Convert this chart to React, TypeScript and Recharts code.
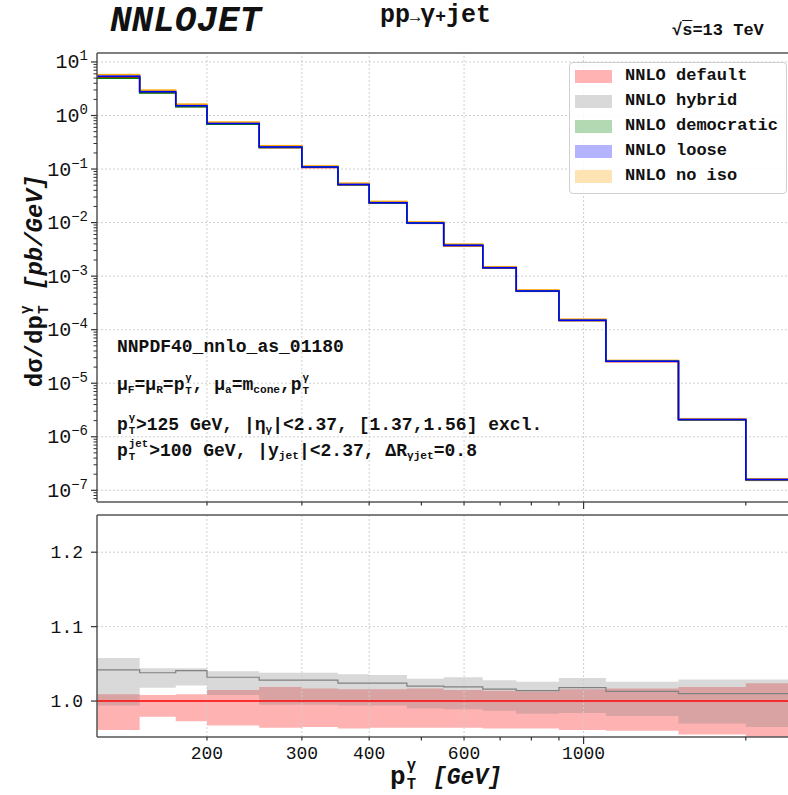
import React from "react";
import { ComposedChart, Area, Line, XAxis, YAxis, ReferenceLine } from "recharts";

const FONT = "'Liberation Mono', 'DejaVu Sans Mono', monospace";
const FRAME = "#555";
const GRID = "#cfcfcf";

// pT bin edges [GeV]
const binEdges = [125, 150, 175, 200, 250, 300, 350, 400, 470, 550, 650, 750, 900, 1100, 1500, 2000, 2500];

// d sigma / d pT [pb/GeV], one value per bin
const xsDefault = [5.2, 2.7, 1.48, 0.69, 0.252, 0.107, 0.0508, 0.0232, 0.0097, 0.0037, 0.00142, 0.00052, 0.000148, 2.55e-5, 2.08e-6, 1.57e-7];
const xsDemocratic = [4.95, 2.62, 1.46, 0.688, 0.253, 0.1075, 0.051, 0.0233, 0.00975, 0.00372, 0.00143, 0.000522, 0.000149, 2.56e-5, 2.09e-6, 1.58e-7];
const xsLoose = [5.42, 2.77, 1.52, 0.708, 0.258, 0.109, 0.0517, 0.0236, 0.00985, 0.00376, 0.00144, 0.000527, 0.00015, 2.58e-5, 2.1e-6, 1.59e-7];
const xsNoIso = [5.75, 2.95, 1.63, 0.75, 0.271, 0.1145, 0.0543, 0.0248, 0.0103, 0.00392, 0.0015, 0.000548, 0.000156, 2.67e-5, 2.17e-6, 1.64e-7];

// ratio to NNLO default (lower panel)
const hybridRatio = [1.042, 1.038, 1.041, 1.032, 1.028, 1.028, 1.024, 1.024, 1.02, 1.019, 1.016, 1.014, 1.018, 1.013, 1.01, 1.01];
const hybridLo = [0.994, 1.018, 1.021, 1.008, 0.995, 0.995, 0.994, 0.994, 0.99, 0.989, 0.987, 0.983, 0.984, 0.98, 0.97, 0.965];
const hybridHi = [1.058, 1.044, 1.044, 1.04, 1.038, 1.038, 1.036, 1.035, 1.03, 1.032, 1.028, 1.026, 1.031, 1.026, 1.029, 1.029];
const defaultLo = [0.961, 0.979, 0.973, 0.967, 0.964, 0.965, 0.963, 0.964, 0.964, 0.964, 0.963, 0.963, 0.961, 0.96, 0.955, 0.945];
const defaultHi = [1.009, 1.008, 1.009, 1.015, 1.019, 1.017, 1.016, 1.016, 1.017, 1.015, 1.014, 1.013, 1.016, 1.017, 1.019, 1.024];

// scale bands of the other prescriptions, relative to their own central value
const democraticLo = [0.97, 0.98, 0.975, 0.97, 0.968, 0.968, 0.967, 0.967, 0.966, 0.966, 0.965, 0.965, 0.964, 0.963, 0.96, 0.955];
const democraticHi = [1.012, 1.01, 1.01, 1.014, 1.016, 1.016, 1.015, 1.015, 1.015, 1.015, 1.014, 1.014, 1.015, 1.016, 1.018, 1.02];
const looseLo = [0.972, 0.98, 0.976, 0.97, 0.968, 0.968, 0.967, 0.967, 0.966, 0.966, 0.965, 0.965, 0.964, 0.963, 0.96, 0.955];
const looseHi = [1.012, 1.01, 1.01, 1.014, 1.016, 1.016, 1.015, 1.015, 1.015, 1.015, 1.014, 1.014, 1.015, 1.016, 1.018, 1.02];
const noIsoLo = [0.975, 0.978, 0.976, 0.975, 0.974, 0.974, 0.973, 0.973, 0.972, 0.972, 0.972, 0.971, 0.971, 0.97, 0.968, 0.965];
const noIsoHi = [1.06, 1.055, 1.055, 1.05, 1.05, 1.048, 1.048, 1.047, 1.046, 1.046, 1.045, 1.045, 1.044, 1.044, 1.043, 1.042];

// axis ticks
const xTicks = [200, 300, 400, 500, 600, 700, 800, 900, 1000, 2000];
const xLabelled = [200, 300, 400, 600, 1000];
const xLong = [1000];
const yDecades = [1e-7, 1e-6, 1e-5, 1e-4, 1e-3, 1e-2, 1e-1, 1, 10];
const yMinorSteps = [2, 3, 4, 5, 6, 7, 8, 9];
const ratioTicks = [1.0, 1.1, 1.2];

const X_DOMAIN = [125, 2500];
const Y_TOP = [6.05e-8, 14.7];
const Y_RATIO = [0.9517, 1.25];

const yTicksTop: number[] = [];
[1e-8, ...yDecades].forEach((d) => {
  yTicksTop.push(d);
  yMinorSteps.forEach((m) => yTicksTop.push(d * m));
});
const yTicksTopIn = yTicksTop.filter((v) => v >= Y_TOP[0] && v <= Y_TOP[1]);

const nBins = xsDefault.length;
const rows = binEdges.map((edge, i) => {
  const k = Math.min(i, nBins - 1);
  const d = xsDefault[k];
  return {
    pt: edge,
    def: d,
    defBand: [d * defaultLo[k], d * defaultHi[k]],
    hyb: d * hybridRatio[k],
    hybBand: [d * hybridLo[k], d * hybridHi[k]],
    dem: xsDemocratic[k],
    demBand: [xsDemocratic[k] * democraticLo[k], xsDemocratic[k] * democraticHi[k]],
    loo: xsLoose[k],
    looBand: [xsLoose[k] * looseLo[k], xsLoose[k] * looseHi[k]],
    noi: xsNoIso[k],
    noiBand: [xsNoIso[k] * noIsoLo[k], xsNoIso[k] * noIsoHi[k]],
    rDef: xsDefault[k] / d,
    rDefBand: [defaultLo[k], defaultHi[k]],
    rHyb: hybridRatio[k],
    rHybBand: [hybridLo[k], hybridHi[k]],
  };
});

const series = [
  { key: "def", name: "NNLO default", color: "#ff0000", patch: "#ffb3b3" },
  { key: "hyb", name: "NNLO hybrid", color: "#808080", patch: "#d9d9d9" },
  { key: "dem", name: "NNLO democratic", color: "#008000", patch: "#b3d9b3" },
  { key: "loo", name: "NNLO loose", color: "#0000ff", patch: "#b3b3ff" },
  { key: "noi", name: "NNLO no iso", color: "#ffa500", patch: "#ffe4b3" },
];
// central lines: no iso at the back, loose on top
const lineOrder = ["noi", "def", "hyb", "dem", "loo"];

const sup = (e: number) => (e < 0 ? `\u2212${-e}` : `${e}`);

const LogYTick = (props: any) => {
  const { x, y, payload } = props;
  const v = payload.value;
  const e = Math.round(Math.log10(v));
  const major = Math.abs(Math.log10(v) - e) < 1e-6;
  if (!major) {
    return <line x1={x - 3.5} x2={x} y1={y} y2={y} stroke="#333" strokeWidth={1} />;
  }
  return (
    <g>
      <line x1={x - 6} x2={x} y1={y} y2={y} stroke="#333" strokeWidth={1.2} />
      <text x={x - 9} y={y + 6.5} textAnchor="end" fontFamily={FONT} fontSize={20} fill="#111">
        10<tspan dy={-8} fontSize={14}>{sup(e)}</tspan>
      </text>
    </g>
  );
};

const RatioYTick = (props: any) => {
  const { x, y, payload } = props;
  return (
    <g>
      <line x1={x - 6} x2={x} y1={y} y2={y} stroke="#333" strokeWidth={1.2} />
      <text x={x - 14} y={y + 6} textAnchor="end" fontFamily={FONT} fontSize={18} fill="#111">
        {payload.value.toFixed(1)}
      </text>
    </g>
  );
};

const XTick = (props: any) => {
  const { x, y, payload, showLabel } = props;
  const v = payload.value;
  const len = xLong.includes(v) ? 7 : 3.5;
  return (
    <g>
      <line x1={x} x2={x} y1={y} y2={y + len} stroke="#333" strokeWidth={1.2} />
      {showLabel && xLabelled.includes(v) && (
        <text x={x} y={y + 22} textAnchor="middle" fontFamily={FONT} fontSize={18} fill="#111">
          {v}
        </text>
      )}
    </g>
  );
};

// p with a superscript stacked over a subscript T (offsets in the small font's own em)
const PtSym = ({ up }: { up: string }) => (
  <span>
    p
    <span
      style={{
        position: "relative",
        display: "inline-block",
        width: `${Math.max(up.length, 1) * 0.37 + 0.08}em`,
        height: "1em",
      }}
    >
      <span style={{ position: "absolute", left: "0.08em", top: "0.05em", fontSize: "0.6em", lineHeight: 1 }}>{up}</span>
      <span style={{ position: "absolute", left: "0.08em", top: "1.3em", fontSize: "0.6em", lineHeight: 1 }}>T</span>
    </span>
  </span>
);

const Sub = ({ children }: { children: React.ReactNode }) => (
  <span style={{ fontSize: "0.62em", verticalAlign: "-0.3em" }}>{children}</span>
);

export default function App() {
  const annStyle: React.CSSProperties = {
    position: "absolute",
    left: 117,
    fontFamily: FONT,
    fontWeight: "bold",
    fontSize: 18,
    lineHeight: "20px",
    whiteSpace: "nowrap",
    color: "#111",
  };

  return (
    <div
      style={{
        position: "fixed",
        left: 0,
        top: 0,
        width: 788,
        height: 795,
        overflow: "hidden",
        background: "#fff",
        fontFamily: FONT,
      }}
    >
      {/* upper panel: cross section */}
      <div style={{ position: "absolute", left: 0, top: 0 }}>
        <ComposedChart width={810} height={512} data={rows} margin={{ top: 53, right: 12, bottom: 0, left: 0 }}>
          {yDecades.map((v) => (
            <ReferenceLine key={"gy" + v} y={v} stroke={GRID} strokeDasharray="2 2" />
          ))}
          {xLabelled.map((v) => (
            <ReferenceLine key={"gx" + v} x={v} stroke={GRID} strokeDasharray="2 2" />
          ))}
          <XAxis
            dataKey="pt"
            type="number"
            scale="log"
            domain={X_DOMAIN}
            allowDataOverflow
            ticks={xTicks}
            interval={0}
            tick={<XTick showLabel={false} />}
            tickLine={false}
            tickSize={0}
            tickMargin={0}
            height={10}
            axisLine={{ stroke: FRAME, strokeWidth: 1.5 }}
          />
          <YAxis
            type="number"
            scale="log"
            domain={Y_TOP}
            allowDataOverflow
            ticks={yTicksTopIn}
            interval={0}
            tick={<LogYTick />}
            tickLine={false}
            tickSize={0}
            tickMargin={0}
            width={97}
            axisLine={{ stroke: FRAME, strokeWidth: 1.5 }}
          />
          {series.map((s) => (
            <Area
              key={s.key + "Band"}
              dataKey={s.key + "Band"}
              type="stepAfter"
              fill={s.color}
              fillOpacity={0.3}
              stroke="none"
              isAnimationActive={false}
            />
          ))}
          {lineOrder.map((k) => {
            const s = series.find((q) => q.key === k)!;
            return (
              <Line
                key={s.key}
                dataKey={s.key}
                type="stepAfter"
                stroke={s.color}
                strokeWidth={1.5}
                dot={false}
                isAnimationActive={false}
              />
            );
          })}
          <ReferenceLine y={Y_TOP[1]} stroke={FRAME} strokeWidth={1.5} />
        </ComposedChart>
      </div>

      {/* lower panel: ratio to default */}
      <div style={{ position: "absolute", left: 0, top: 505 }}>
        <ComposedChart width={810} height={262} data={rows} margin={{ top: 10, right: 12, bottom: 0, left: 0 }}>
          {ratioTicks.map((v) => (
            <ReferenceLine key={"gy" + v} y={v} stroke={GRID} strokeDasharray="2 2" />
          ))}
          {xLabelled.map((v) => (
            <ReferenceLine key={"gx" + v} x={v} stroke={GRID} strokeDasharray="2 2" />
          ))}
          <XAxis
            dataKey="pt"
            type="number"
            scale="log"
            domain={X_DOMAIN}
            allowDataOverflow
            ticks={xTicks}
            interval={0}
            tick={<XTick showLabel />}
            tickLine={false}
            tickSize={0}
            tickMargin={0}
            height={30}
            axisLine={{ stroke: FRAME, strokeWidth: 1.5 }}
          />
          <YAxis
            type="number"
            domain={Y_RATIO}
            allowDataOverflow
            ticks={ratioTicks}
            interval={0}
            tick={<RatioYTick />}
            tickLine={false}
            tickSize={0}
            tickMargin={0}
            width={97}
            axisLine={{ stroke: FRAME, strokeWidth: 1.5 }}
          />
          <Area dataKey="rDefBand" type="stepAfter" fill="#ff0000" fillOpacity={0.3} stroke="none" isAnimationActive={false} />
          <Area dataKey="rHybBand" type="stepAfter" fill="#808080" fillOpacity={0.3} stroke="none" isAnimationActive={false} />
          <Line dataKey="rHyb" type="stepAfter" stroke="#808080" strokeWidth={1.2} dot={false} isAnimationActive={false} />
          <Line dataKey="rDef" type="stepAfter" stroke="#ff0000" strokeWidth={1.5} dot={false} isAnimationActive={false} />
          <ReferenceLine y={Y_RATIO[1]} stroke={FRAME} strokeWidth={1.5} />
        </ComposedChart>
      </div>

      {/* titles */}
      <div style={{ position: "absolute", left: 110, top: 3, fontSize: 36, lineHeight: "38px", fontWeight: "bold", fontStyle: "italic", color: "#111" }}>
        NNLOJET
      </div>
      <div style={{ position: "absolute", left: 380, top: 3, fontSize: 25, lineHeight: "26px", fontWeight: "bold", color: "#111", whiteSpace: "nowrap" }}>
        pp<span style={{ fontSize: 17 }}>→</span>γ<span style={{ fontSize: 18 }}>+</span>jet
      </div>
      <div style={{ position: "absolute", left: 672, top: 21, fontSize: 17, lineHeight: "20px", fontWeight: "bold", color: "#111", whiteSpace: "nowrap" }}>
        √<span style={{ textDecoration: "overline" }}>s</span>=13 TeV
      </div>

      {/* legend */}
      <div
        style={{
          position: "absolute",
          left: 569,
          top: 62,
          width: 216,
          height: 130,
          border: "1px solid #d0d0d0",
          borderRadius: 4,
          background: "rgba(255,255,255,0.85)",
        }}
      >
        {series.map((s, i) => (
          <div key={s.key} style={{ position: "absolute", left: 5, top: 6 + i * 25, height: 14, display: "flex", alignItems: "center", whiteSpace: "nowrap" }}>
            <div style={{ width: 37, height: 13, background: s.patch }} />
            <div style={{ marginLeft: 13, fontSize: 17, fontWeight: "bold", color: "#111", lineHeight: "14px" }}>{s.name}</div>
          </div>
        ))}
      </div>

      {/* annotations */}
      <div style={{ ...annStyle, top: 337 }}>NNPDF40_nnlo_as_01180</div>
      <div style={{ ...annStyle, top: 372 }}>
        μ<Sub>F</Sub>=μ<Sub>R</Sub>=<PtSym up="γ" />, μ<Sub>a</Sub>=m<Sub>cone</Sub>,<PtSym up="γ" />
      </div>
      <div style={{ ...annStyle, top: 412 }}>
        <PtSym up="γ" />&gt;125 GeV, |η<Sub>γ</Sub>|&lt;2.37, [1.37,1.56] excl.
      </div>
      <div style={{ ...annStyle, top: 438 }}>
        <PtSym up="jet" />&gt;100 GeV, |y<Sub>jet</Sub>|&lt;2.37, ΔR<Sub>γjet</Sub>=0.8
      </div>

      {/* axis titles */}
      <div
        style={{
          position: "absolute",
          left: 33,
          top: 281,
          transform: "translate(-50%, -50%) rotate(-90deg)",
          whiteSpace: "nowrap",
          fontSize: 24,
          lineHeight: "26px",
          fontWeight: "bold",
          color: "#111",
        }}
      >
        dσ/d<PtSym up="γ" /> <i>[pb/GeV]</i>
      </div>
      <div style={{ position: "absolute", left: 390, top: 758, whiteSpace: "nowrap", fontSize: 26, lineHeight: "30px", fontWeight: "bold", color: "#111" }}>
        <PtSym up="γ" /> <i style={{ fontSize: 23 }}>[GeV]</i>
      </div>
    </div>
  );
}
